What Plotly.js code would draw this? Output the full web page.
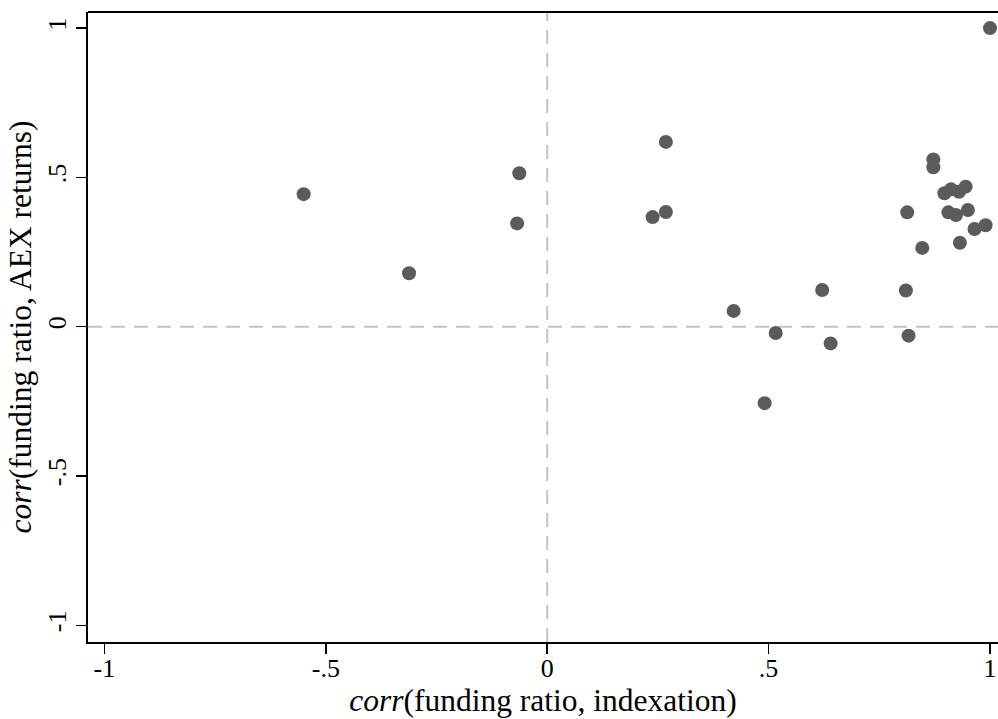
<!DOCTYPE html>
<html>
<head>
<meta charset="utf-8">
<script src="https://cdn.plot.ly/plotly-3.0.1.min.js"></script>
<style>html,body{margin:0;padding:0;background:#fff;}#chart{width:998px;height:719px;}</style>
</head>
<body>
<div id="chart"></div>
<script>
// corr(funding ratio, indexation)
var corrIndexation = [-0.550, -0.312, -0.063, -0.068, 0.268, 0.238, 0.268, 0.421, 0.516, 0.491,
  0.621, 0.640, 0.810, 0.816, 0.813, 0.847, 0.872, 0.872, 0.897, 0.912,
  0.930, 0.945, 0.906, 0.923, 0.950, 0.965, 0.990, 0.932, 1.000];
// corr(funding ratio, AEX returns)
var corrAEX = [0.444, 0.179, 0.514, 0.346, 0.619, 0.367, 0.384, 0.053, -0.021, -0.256,
  0.123, -0.056, 0.121, -0.030, 0.383, 0.264, 0.560, 0.534, 0.447, 0.460,
  0.452, 0.469, 0.383, 0.374, 0.391, 0.327, 0.340, 0.281, 1.000];
var tickVals = [-1, -0.5, 0, 0.5, 1];
var tickText = ["-1", "-.5", "0", ".5", "1"];

var trace = {
  x: corrIndexation, y: corrAEX, type: 'scatter', mode: 'markers',
  marker: {color: '#5b5b5b', size: 14, line: {width: 0}},
  hoverinfo: 'skip'
};
var family = 'Liberation Serif, Times New Roman, serif';
var tickFnt = {family: family, size: 26, color: '#000'};
var titleFnt = {family: family, size: 31.5, color: '#000'};
var layout = {
  width: 998, height: 719,
  margin: {l: 88, r: 0, t: 12, b: 77},
  paper_bgcolor: '#fff', plot_bgcolor: '#fff',
  showlegend: false,
  font: tickFnt,
  xaxis: {
    range: [-1.037, 1.018], tickvals: tickVals, ticktext: tickText,
    showgrid: false, zeroline: false, showline: true, linecolor: '#000', linewidth: 2,
    ticks: 'outside', ticklen: 10, tickwidth: 1.5, tickcolor: '#000',
    tickfont: tickFnt, ticklabelstandoff: -8,
    title: {text: '<i>corr</i>(funding ratio, indexation)', font: titleFnt, standoff: 0}
  },
  yaxis: {
    range: [-1.056, 1.054], tickvals: tickVals, ticktext: tickText, tickangle: -90,
    showgrid: false, zeroline: false, showline: true, linecolor: '#000', linewidth: 2,
    ticks: 'outside', ticklen: 10, tickwidth: 1.5, tickcolor: '#000',
    tickfont: tickFnt,
    title: {text: '<i>corr</i>(funding ratio, AEX returns)', font: titleFnt, standoff: 2}
  },
  shapes: [
    {type: 'line', xref: 'paper', yref: 'paper', x0: 0, x1: 1, y0: 1, y1: 1,
     line: {color: '#000', width: 2}},
    {type: 'line', xref: 'x', yref: 'paper', x0: 0, x1: 0, y0: 0, y1: 1, layer: 'below',
     line: {color: '#c3c3c3', width: 2, dash: '14px,9px'}},
    {type: 'line', xref: 'paper', yref: 'y', x0: 0, x1: 1, y0: 0, y1: 0, layer: 'below',
     line: {color: '#c3c3c3', width: 2, dash: '14px,9px'}}
  ]
};
Plotly.newPlot('chart', [trace], layout, {displayModeBar: false, staticPlot: true});
</script>
</body>
</html>
